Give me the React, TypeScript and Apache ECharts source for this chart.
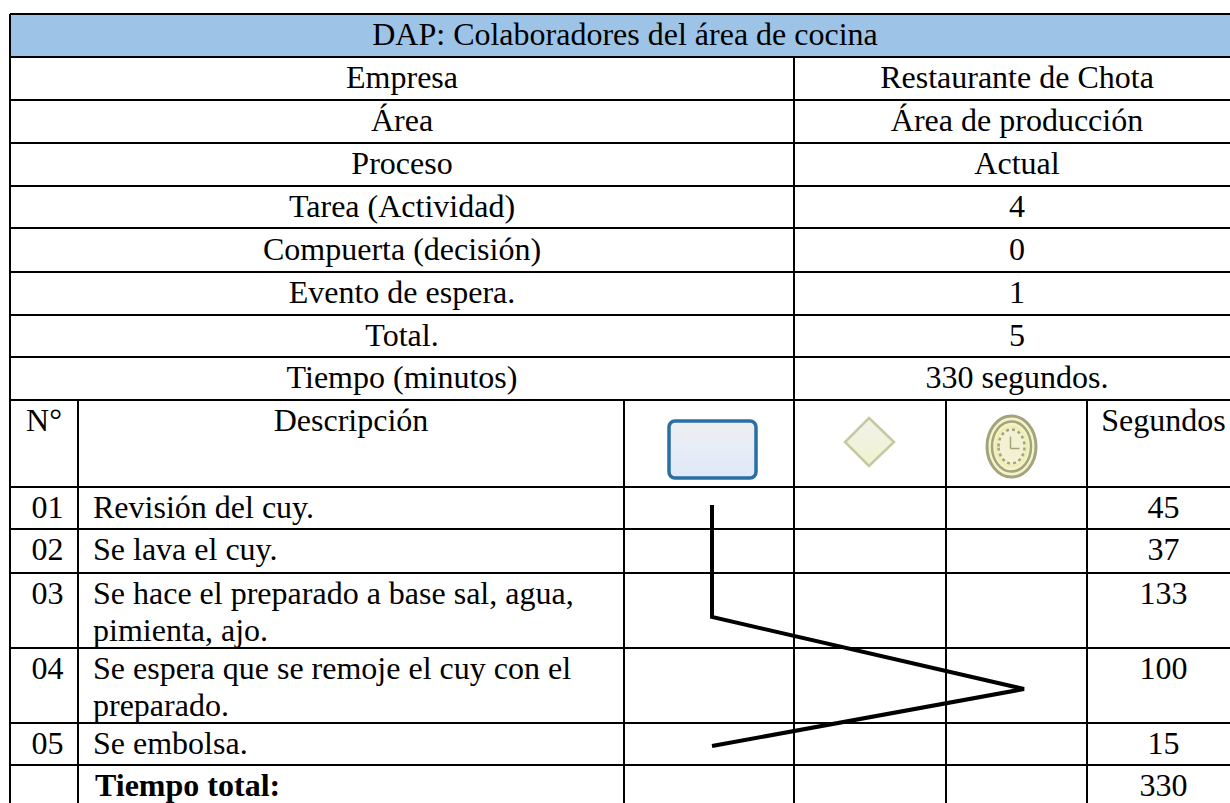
import React, { useEffect, useRef } from "react";
import * as echarts from "echarts";

const W = 1230;
const H = 803;
const TABLE_RIGHT = 1240; // the table runs past the page's right edge
const FONT = '"Liberation Serif", "Times New Roman", serif';
const FS = 32;

const title = "DAP: Colaboradores del área de cocina";
const summaryLabels = ["Empresa", "Área", "Proceso", "Tarea (Actividad)", "Compuerta (decisión)", "Evento de espera.", "Total.", "Tiempo (minutos)"];
const summaryValues = ["Restaurante de Chota", "Área de producción", "Actual", "4", "0", "1", "5", "330 segundos."];
const headers = ["N°", "Descripción", "Segundos"];
const stepNumbers = ["01", "02", "03", "04", "05", ""];
const stepDescriptions = [
  ["Revisión del cuy."],
  ["Se lava el cuy."],
  ["Se hace el preparado a base sal, agua,", "pimienta, ajo."],
  ["Se espera que se remoje el cuy con el", "preparado."],
  ["Se embolsa."],
  ["Tiempo total:"],
];
const stepSeconds = ["45", "37", "133", "100", "15", "330"];
// flow line, in page pixels
const flowLine = [[712, 505], [712, 617], [1024, 689], [712, 746]];

const colEdges = [10, 78, 624, 794, 946, 1087];
const topRows = [14, 57, 100, 143, 186, 228, 272, 315, 357, 400];
const lowerRows = [400, 487, 529, 573, 648, 723, 765];

type Seg = [number, number, number, number, number];
const segments: Seg[] = [];
topRows.forEach((y) => segments.push([colEdges[0], y, W, y, 2]));
lowerRows.slice(1).forEach((y) => segments.push([colEdges[0], y, W, y, 2]));
segments.push([colEdges[0], topRows[0], colEdges[0], topRows[9], 2]);
segments.push([colEdges[3], topRows[1], colEdges[3], topRows[9], 2]);
colEdges.forEach((x) => segments.push([x, topRows[9], x, H, 2]));

type Label = { text: string; x: number; y: number; align: string; bold?: boolean };
const labels: Label[] = [];
const midX = (a: number, b: number) => (a + b) / 2;
const summaryY = (a: number, b: number) => (a + b) / 2 - 1.5;
const numberX = 47.5;
labels.push({ text: title, x: midX(colEdges[0], TABLE_RIGHT), y: summaryY(topRows[0], topRows[1]), align: "center" });
summaryLabels.forEach((t, i) =>
  labels.push({ text: t, x: midX(colEdges[0], colEdges[3]), y: summaryY(topRows[i + 1], topRows[i + 2]), align: "center" })
);
summaryValues.forEach((t, i) =>
  labels.push({ text: t, x: midX(colEdges[3], TABLE_RIGHT), y: summaryY(topRows[i + 1], topRows[i + 2]), align: "center" })
);
const line1 = (r: number) => lowerRows[r] + 19.5;
labels.push({ text: headers[0], x: midX(colEdges[0], colEdges[1]), y: line1(0), align: "center" });
labels.push({ text: headers[1], x: midX(colEdges[1], colEdges[2]), y: line1(0), align: "center" });
labels.push({ text: headers[2], x: midX(colEdges[5], TABLE_RIGHT), y: line1(0), align: "center" });
stepNumbers.forEach((t, i) => {
  if (t) labels.push({ text: t, x: numberX, y: line1(i + 1), align: "center" });
});
stepDescriptions.forEach((lines, i) =>
  lines.forEach((t, j) =>
    labels.push({ text: t, x: colEdges[1] + 15 + (i === 5 ? 2 : 0), y: line1(i + 1) + j * 37, align: "left", bold: i === 5 })
  )
);
stepSeconds.forEach((t, i) => labels.push({ text: t, x: midX(colEdges[5], TABLE_RIGHT), y: line1(i + 1), align: "center" }));

const shapeIds = ["task", "gateway", "event"];

export default function App() {
  const ref = useRef<HTMLDivElement>(null);
  useEffect(() => {
    const chart = echarts.init(ref.current!, undefined, { renderer: "svg", width: W, height: H });
    chart.setOption({
      animation: false,
      backgroundColor: "#fff",
      grid: { left: 0, right: 0, top: 0, bottom: 0 },
      xAxis: { type: "value", min: 0, max: W, show: false },
      yAxis: { type: "value", min: 0, max: H, inverse: true, show: false },
      series: [
        {
          type: "custom",
          silent: true,
          clip: false,
          coordinateSystem: "cartesian2d",
          data: [[colEdges[0], topRows[0], W, topRows[1]]],
          encode: { x: [0, 2], y: [1, 3] },
          renderItem: (_: any, api: any) => {
            const a = api.coord([api.value(0), api.value(1)]);
            const b = api.coord([api.value(2), api.value(3)]);
            return { type: "rect", shape: { x: a[0], y: a[1], width: b[0] - a[0], height: b[1] - a[1] }, style: { fill: "#9dc3e6" } };
          },
          z: 1,
        },
        {
          type: "custom",
          silent: true,
          clip: false,
          coordinateSystem: "cartesian2d",
          data: segments,
          encode: { x: [0, 2], y: [1, 3] },
          renderItem: (_: any, api: any) => {
            const a = api.coord([api.value(0), api.value(1)]);
            const b = api.coord([api.value(2), api.value(3)]);
            return { type: "line", shape: { x1: a[0], y1: a[1], x2: b[0], y2: b[1] }, style: { stroke: "#000", lineWidth: api.value(4) } };
          },
          z: 2,
        },
        {
          type: "custom",
          silent: true,
          coordinateSystem: "cartesian2d",
          data: shapeIds.map((_, i) => [i]),
          renderItem: (p: any, api: any) => {
            const c = (x: number, y: number) => api.coord([x, y]);
            if (p.dataIndex === 0) {
              const a = c(669, 421);
              return {
                type: "rect",
                shape: { x: a[0], y: a[1], width: 87, height: 57, r: 6 },
                style: {
                  fill: new echarts.graphic.LinearGradient(0, 0, 0, 1, [
                    { offset: 0, color: "#eeeff2" },
                    { offset: 1, color: "#dfe9f9" },
                  ]),
                  stroke: "#2a6fa3",
                  lineWidth: 3.5,
                },
              };
            }
            if (p.dataIndex === 1) {
              return {
                type: "polygon",
                shape: { points: [c(869, 418), c(894, 442), c(869, 466), c(845, 442)] },
                style: {
                  fill: new echarts.graphic.LinearGradient(0, 0, 0, 1, [
                    { offset: 0, color: "#f2f2ea" },
                    { offset: 1, color: "#f0f2cf" },
                  ]),
                  stroke: "#c6c9a0",
                  lineWidth: 2.5,
                },
              };
            }
            const [cx, cy] = c(1011.5, 446.5);
            const ring = (rx: number, ry: number, stroke: string, lineWidth: number, fill = "none", lineDash?: number[]) => ({
              type: "ellipse",
              shape: { cx, cy, rx, ry },
              style: { fill, stroke, lineWidth, lineDash },
            });
            return {
              type: "group",
              children: [
                ring(24.5, 30.5, "#a3a380", 3, "#f4f4c6"),
                ring(19.5, 25, "#a3a380", 2.5),
                ring(15.5, 20, "#eeeeb0", 2.5, "#f2f2d2"),
                ring(13, 17, "#a3a380", 2.5, "none", [3, 3]),
                { type: "line", shape: { x1: cx - 1, y1: cy - 10, x2: cx - 1, y2: cy + 2 }, style: { stroke: "#a3a380", lineWidth: 1.5 } },
                { type: "line", shape: { x1: cx - 1, y1: cy + 2, x2: cx + 8, y2: cy + 2 }, style: { stroke: "#a3a380", lineWidth: 1.5 } },
              ],
            };
          },
          z: 3,
        },
        {
          type: "line",
          data: flowLine,
          showSymbol: false,
          symbol: "none",
          silent: true,
          lineStyle: { color: "#000", width: 4, join: "miter" },
          z: 4,
        },
        {
          type: "custom",
          silent: true,
          clip: false,
          coordinateSystem: "cartesian2d",
          data: labels.map((l) => [l.x, l.y]),
          renderItem: (p: any, api: any) => {
            const l = labels[p.dataIndex];
            const a = api.coord([api.value(0), api.value(1)]);
            return {
              type: "text",
              x: a[0],
              y: a[1],
              style: {
                text: l.text,
                fontFamily: FONT,
                fontSize: FS,
                fontWeight: l.bold ? "bold" : "normal",
                fill: "#000",
                align: l.align,
                verticalAlign: "middle",
              },
            };
          },
          z: 5,
        },
      ],
    });
    return () => chart.dispose();
  }, []);
  return <div ref={ref} style={{ position: "absolute", left: 0, top: 0, width: W, height: H }} />;
}
